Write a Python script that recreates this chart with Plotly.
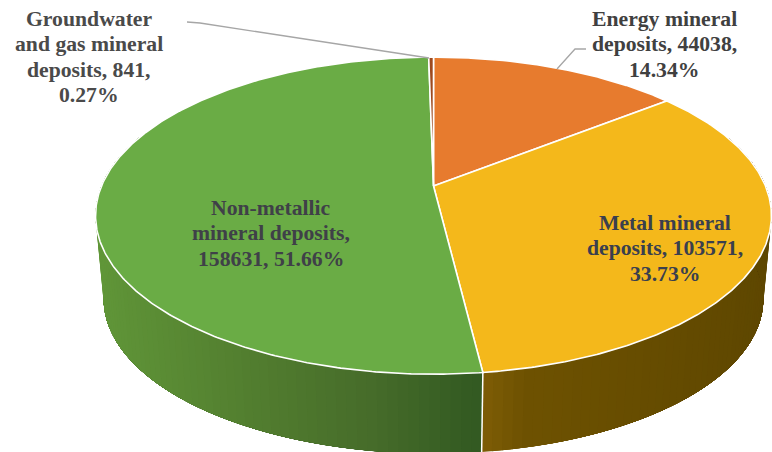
import numpy as np
import plotly.graph_objects as go

# ---- data (clockwise from 12 o'clock) ----
categories = ["Energy mineral deposits", "Metal mineral deposits",
              "Non-metallic mineral deposits", "Groundwater and gas mineral deposits"]
values = [44038, 103571, 158631, 841]
percents = ["14.34%", "33.73%", "51.66%", "0.27%"]
label_lines = [["Energy mineral", "deposits, 44038,", "14.34%"],
               ["Metal mineral", "deposits, 103571,", "33.73%"],
               ["Non-metallic", "mineral deposits,", "158631, 51.66%"],
               ["Groundwater", "and gas mineral", "deposits, 841,", "0.27%"]]
top_colors = ["#E77B2E", "#F4B81B", "#6AAC45", "#9E4A1F"]
# side shading: colour stops across the screen x-range [left, right]
side_stops = {
    1: [(482, "#7D5C06"), (520, "#6E5202"), (640, "#674D00"), (775, "#5E4700")],
    2: [(95, "#619739"), (250, "#537F30"), (380, "#466C2A"), (482, "#335A22")],
}
label_pos = [(664, 44), (665, 248), (271, 233), (89, 57)]
label_colors = ["#404040", "#3A3F4E", "#3F4048", "#4A4A4A"]
leader_x = [[586, 575, 557], [187, 200, 429]]
leader_y = [[49, 49, 69], [22, 23, 58]]

# ---- projection of the tilted disc ----
CX, CY, X, Y, K = 433.5, 186, 332, 153, 0.187
SCALE, BOTTOM_CY = 0.976, 270
LINE_STEP = 25.5


def project(theta, bottom=False):
    t = np.radians(theta)
    u, v = np.sin(t), -np.cos(t)
    d = 1 - K * v
    if bottom:
        return CX + SCALE * X * u / d, BOTTOM_CY + SCALE * Y * v / d
    return CX + X * u / d, CY + Y * v / d


def hex2rgb(h):
    return np.array([int(h[i:i + 2], 16) for i in (1, 3, 5)], float)


def shade(stops, x):
    xs = [s[0] for s in stops]
    cols = np.array([hex2rgb(s[1]) for s in stops])
    c = [np.interp(x, xs, cols[:, i]) for i in range(3)]
    return "rgb(%d,%d,%d)" % tuple(c)


total = sum(values)
edges = np.concatenate([[0], np.cumsum(values) / total * 360])

fig = go.Figure()


def poly(x, y, fill, line, width=0):
    fig.add_trace(go.Scatter(x=list(x), y=list(y), mode="lines", fill="toself", fillcolor=fill,
                             line=dict(color=line, width=width), hoverinfo="skip", showlegend=False))


# side walls: painter's order, every band runs to the wall's far end so no seams show
for idx, forward in ((2, True), (1, False)):
    a0, a1 = max(edges[idx], 70), min(edges[idx + 1], 290)
    grid = np.linspace(a0, a1, int((a1 - a0) / 1.5) + 2)
    starts = grid[:-1] if forward else grid[:0:-1]
    for s in starts:
        th = np.linspace(s, a1, 40) if forward else np.linspace(a0, s, 40)
        tx, ty = project(th)
        bx, by = project(th[::-1], bottom=True)
        edge = th[0] if forward else th[-1]
        ex, _ = project(edge)
        ex2, _ = project(edge, bottom=True)
        col = shade(side_stops[idx], (ex + ex2) / 2)
        poly(np.r_[tx, bx, tx[0]], np.r_[ty, by, ty[0]], col, col, 0)

# white seam on the front wall
sx0, sy0 = project(edges[2])
sx1, sy1 = project(edges[2], bottom=True)
fig.add_trace(go.Scatter(x=[sx0, sx1], y=[sy0, sy1], mode="lines", line=dict(color="white", width=1.5),
                         hoverinfo="skip", showlegend=False))

# top face wedges
for i in range(len(values)):
    th = np.linspace(edges[i], edges[i + 1], max(3, int(edges[i + 1] - edges[i]) * 2))
    px, py = project(th)
    poly(np.r_[CX, px, CX], np.r_[CY, py, CY], top_colors[i], "white", 1.6)

# leader lines
for lx, ly in zip(leader_x, leader_y):
    fig.add_trace(go.Scatter(x=lx, y=ly, mode="lines", line=dict(color="#A6A6A6", width=1.3),
                             hoverinfo="skip", showlegend=False))

for lines, (ax, ay), col in zip(label_lines, label_pos, label_colors):
    n = len(lines)
    for j, txt in enumerate(lines):
        fig.add_annotation(x=ax, y=ay + (j - (n - 1) / 2) * LINE_STEP, text="<b>" + txt + "</b>",
                           showarrow=False, align="center",
                           font=dict(family="Liberation Serif", size=21.7, color=col))

fig.update_layout(width=772, height=452, margin=dict(l=0, r=0, t=0, b=0), autosize=False,
                  paper_bgcolor="white", plot_bgcolor="white",
                  xaxis=dict(range=[0, 772], visible=False, fixedrange=True),
                  yaxis=dict(range=[452, 0], visible=False, fixedrange=True))
fig.write_html("out.html", config=dict(displayModeBar=False),
               post_script="document.body.style.margin='0';document.documentElement.style.overflow='hidden';")
